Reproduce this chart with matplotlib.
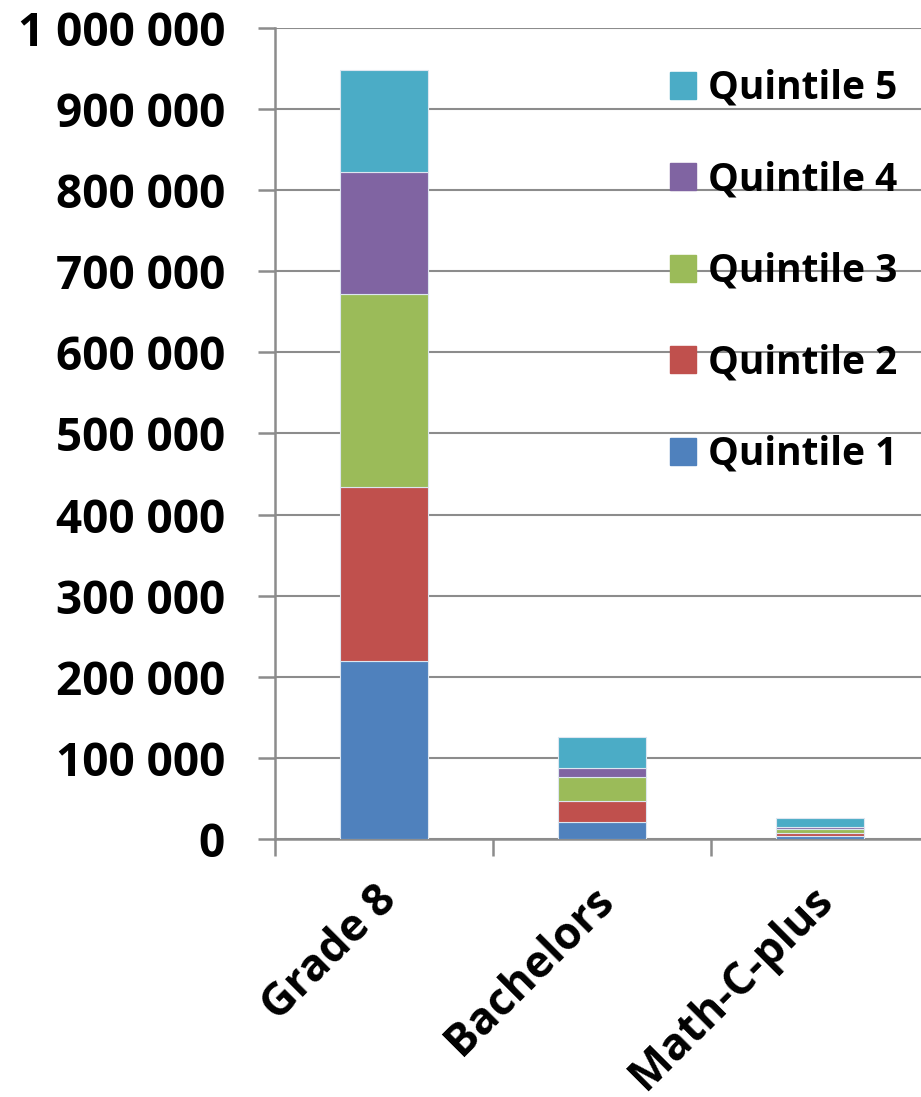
import matplotlib.pyplot as plt
import matplotlib.transforms as mtransforms
from matplotlib.patches import Patch

categories = ["Grade 8", "Bachelors", "Math-C-plus"]
quintiles = ["Quintile 1", "Quintile 2", "Quintile 3", "Quintile 4", "Quintile 5"]
q1 = [220000, 21000, 3300]
q2 = [214000, 26000, 4100]
q3 = [238000, 29000, 4900]
q4 = [150000, 12000, 2500]
q5 = [126000, 38000, 11200]
colors = ["#4F81BD", "#C0504D", "#9BBB59", "#8064A2", "#4BACC6"]

plt.rcParams["font.family"] = ["Open Sans", "DejaVu Sans"]
plt.rcParams["font.weight"] = "bold"

fig = plt.figure(figsize=(9.21, 10.97), dpi=100)
ax = fig.add_axes([0.2986, 0.2352, 0.7101, 0.7393])

x = list(range(len(categories)))
bottom = [0, 0, 0]
for vals, col, lab in zip([q1, q2, q3, q4, q5], colors, quintiles):
    ax.bar(x, vals, width=0.4, bottom=bottom, color=col, edgecolor="#dde6f0",
           linewidth=0.8, label=lab, zorder=3)
    bottom = [b + v for b, v in zip(bottom, vals)]

ax.set_xlim(-0.5, 2.5)
ax.set_ylim(0, 1000000)
yt = list(range(0, 1000001, 100000))
ax.set_yticks(yt)
ax.set_yticklabels([f"{v:,}".replace(",", " ") for v in yt], fontsize=33, fontweight="bold")
ax.yaxis.grid(True, color="#8c8c8c", linewidth=1.5, zorder=0)

ax.set_xticks([-0.5, 0.5, 1.5, 2.5])
ax.set_xticklabels([])
ax.set_xticks(x, minor=True)
ax.set_xticklabels(categories, minor=True, rotation=45, ha="right", va="top",
                   rotation_mode="anchor", fontsize=32, fontweight="bold")
ax.tick_params(axis="x", which="minor", length=0, pad=28)
ax.tick_params(axis="x", which="major", length=12, width=1.8, color="#8c8c8c")
ax.tick_params(axis="y", length=12, width=1.8, color="#8c8c8c", pad=24)

# nudge the slanted category labels a little to the left
shift = mtransforms.ScaledTranslation(-0.10, 0, fig.dpi_scale_trans)
for lbl in ax.get_xticklabels(minor=True):
    lbl.set_transform(lbl.get_transform() + shift)

for s in ["top", "right"]:
    ax.spines[s].set_visible(False)
for s in ["left", "bottom"]:
    ax.spines[s].set_color("#8c8c8c")
    ax.spines[s].set_linewidth(1.8)

handles = [Patch(color=c, label=l) for c, l in zip(colors, quintiles)][::-1]
fig.legend(handles=handles, loc="upper left", bbox_to_anchor=(0.706, 0.955),
           frameon=False, handlelength=0.68, handleheight=0.68,
           labelspacing=1.35, handletextpad=0.3, borderpad=0,
           prop={"weight": "bold", "size": 28})

fig.savefig("out.png", dpi=100)
